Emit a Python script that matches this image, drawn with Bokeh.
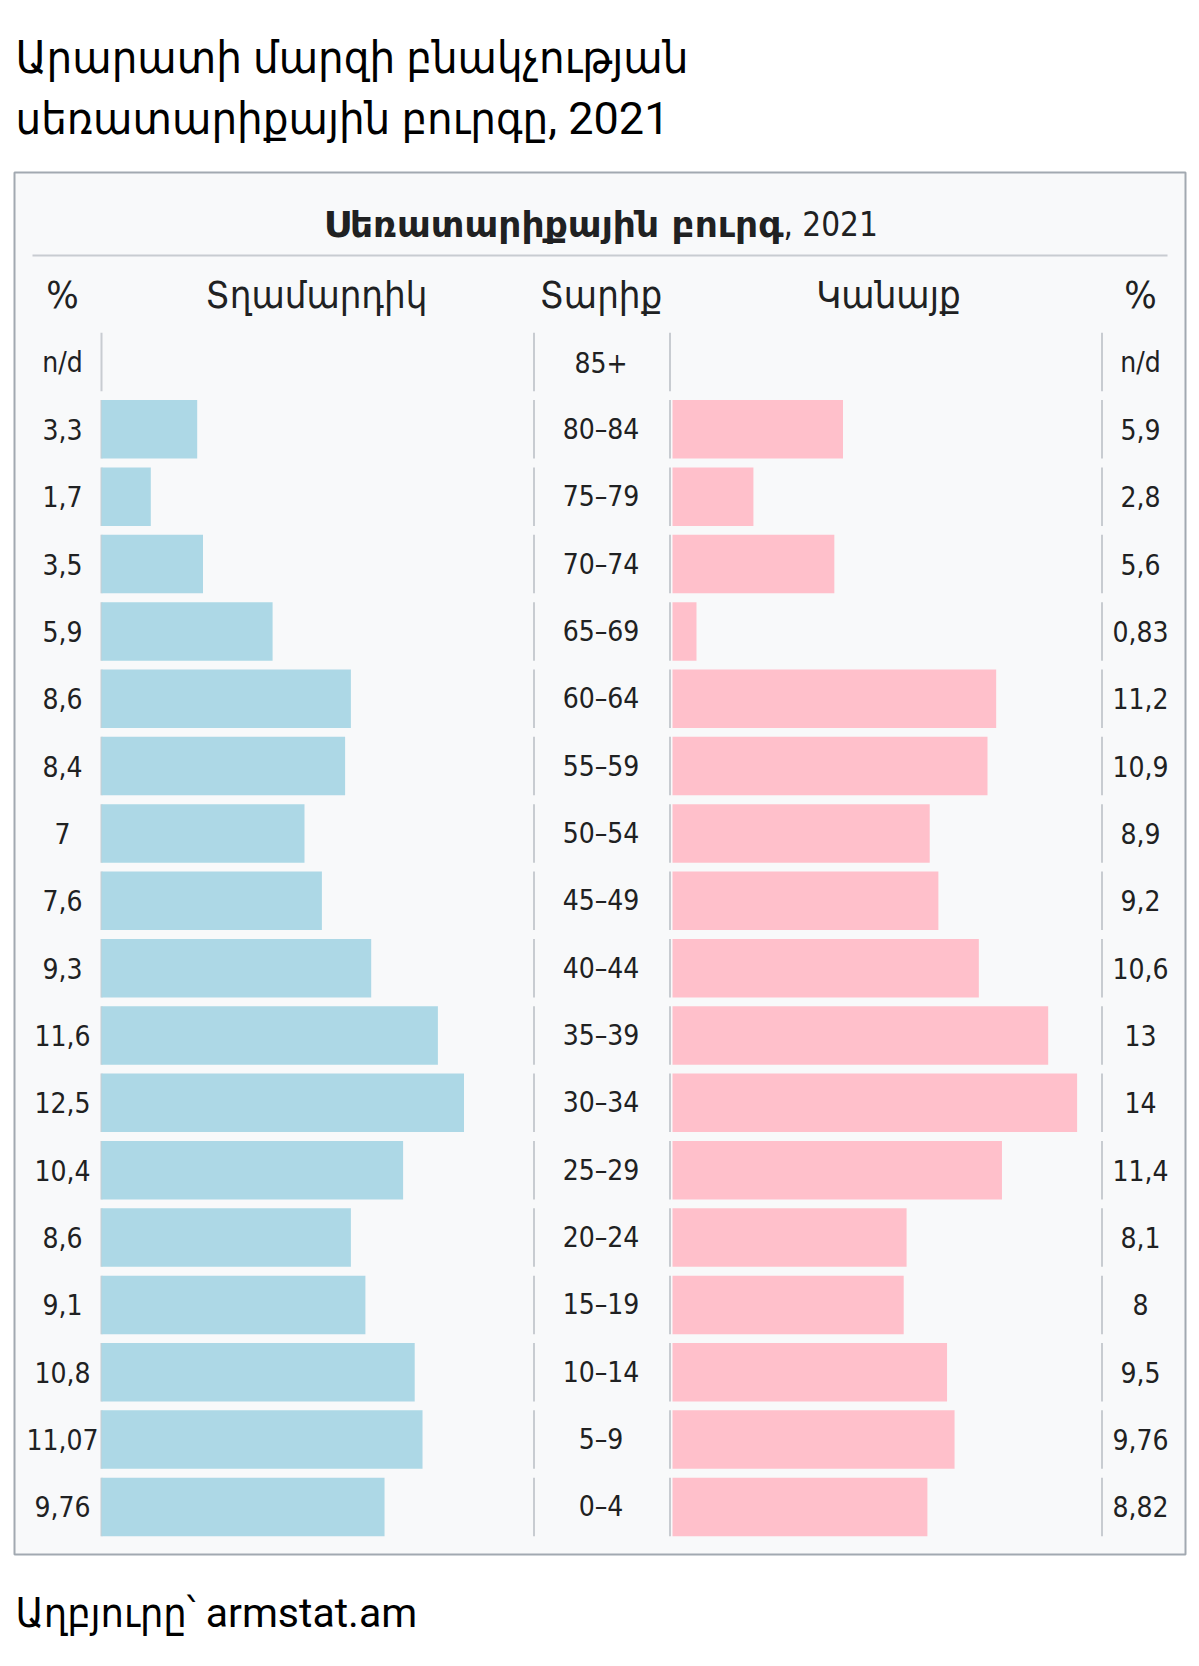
from bokeh.plotting import figure
from bokeh.models import Range1d, ColumnDataSource
from bokeh.core.properties import value
from bokeh.embed import file_html
from bokeh.resources import INLINE

# ---- data ----
ages = ["85+", "80–84", "75–79", "70–74", "65–69", "60–64", "55–59", "50–54", "45–49",
        "40–44", "35–39", "30–34", "25–29", "20–24", "15–19", "10–14", "5–9", "0–4"]
male = [None, 3.3, 1.7, 3.5, 5.9, 8.6, 8.4, 7, 7.6, 9.3, 11.6, 12.5, 10.4, 8.6, 9.1, 10.8, 11.07, 9.76]
female = [None, 5.9, 2.8, 5.6, 0.83, 11.2, 10.9, 8.9, 9.2, 10.6, 13, 14, 11.4, 8.1, 8, 9.5, 9.76, 8.82]

title_lines = ["Արարատի մարզի բնակչության", "սեռատարիքային բուրգը, 2021"]
box_title_bold = "Սեռատարիքային բուրգ"
box_title_rest = ", 2021"
headers = ["%", "Տղամարդիկ", "Տարիք", "Կանայք", "%"]
source_note = "Աղբյուրը՝ armstat.am"

def fmt(v):
    return "n/d" if v is None else str(v).replace(".", ",")

W, H = 1199, 1666
FONT = "Liberation Sans Narrow, DejaVu Sans Condensed, sans-serif"
TFONT = "Roboto, DejaVu Sans Condensed, sans-serif"
BFONT = "DejaVu Sans, sans-serif"

p = figure(width=W, height=H, output_backend="svg", toolbar_location=None,
           x_range=Range1d(0, W), y_range=Range1d(H, 0),
           min_border=0, outline_line_color=None)
p.axis.visible = False
p.grid.visible = False
p.background_fill_color = "white"
p.border_fill_color = "white"

# scales for the bars and rows (page pixel geometry)
row0, pitch = 361.5, 67.35
mx0, mscale = 101.0, 29.0
fx0, fscale = 672.0, 28.9
p.extra_y_ranges = {"rows": Range1d((H - row0) / pitch, (0 - row0) / pitch)}
p.extra_x_ranges = {
    "male": Range1d((0 - mx0) / mscale, (W - mx0) / mscale),
    "female": Range1d((0 - fx0) / fscale, (W - fx0) / fscale),
}

# box
p.quad(left=[14], right=[1185], top=[172], bottom=[1554],
       fill_color="#f8f9fa", line_color="#a2a9b1", line_width=2)
p.segment(x0=[32], x1=[1167], y0=[255], y1=[255], line_color="#c8ccd1", line_width=2)

rows = list(range(len(ages)))
bh = 0.868
# separators
for sx in [101, 533.5, 669.5, 1101.5]:
    p.segment(x0=[sx] * len(rows), x1=[sx] * len(rows),
              y0=[r - bh / 2 for r in rows], y1=[r + bh / 2 for r in rows],
              y_range_name="rows", line_color="#c8ccd1", line_width=2)

mrows = [r for r, v in zip(rows, male) if v is not None]
mvals = [v for v in male if v is not None]
frows = [r for r, v in zip(rows, female) if v is not None]
fvals = [v for v in female if v is not None]

p.hbar(y=mrows, left=0, right=mvals, height=bh, x_range_name="male", y_range_name="rows",
       fill_color="#add8e6", line_color=None)
p.hbar(y=frows, left=0, right=fvals, height=bh, x_range_name="female", y_range_name="rows",
       fill_color="#ffc0cb", line_color=None)

# row labels
lab = ColumnDataSource(dict(
    r=rows,
    ml=[fmt(v) for v in male], fl=[fmt(v) for v in female], age=ages))
common = dict(y="r", source=lab, y_range_name="rows", text_align="center",
              text_baseline="middle", text_font=value(FONT), text_font_size="28px",
              text_color="#202122")
p.text(x=62, text="ml", **common)
p.text(x=600.5, text="age", **common)
p.text(x=1140, text="fl", **common)

# headers
p.text(x=[62, 316, 600.5, 888, 1140], y=[294] * 5, text=headers, text_align="center",
       text_baseline="alphabetic", text_font=value(FONT), text_font_size="38px",
       text_color="#202122")

# box title
p.text(x=[783], y=[224], text=[box_title_bold], text_align="right", text_baseline="alphabetic",
       text_font=value(BFONT), text_font_size="36px", text_font_style="bold", text_color="#202122")
p.text(x=[783], y=[224], text=[box_title_rest], text_align="left", text_baseline="alphabetic",
       text_font=value(FONT), text_font_size="33px", text_color="#202122")

# main title
p.text(x=[15, 15], y=[57, 118], text=title_lines, text_align="left", text_baseline="alphabetic",
       text_font=value(TFONT), text_font_size="45px", text_color="#000000")

# source
p.text(x=[15], y=[1612], text=[source_note], text_align="left", text_baseline="alphabetic",
       text_font=value(TFONT), text_font_size="41px", text_color="#000000")

open("out.html", "w").write(file_html(p, INLINE))
